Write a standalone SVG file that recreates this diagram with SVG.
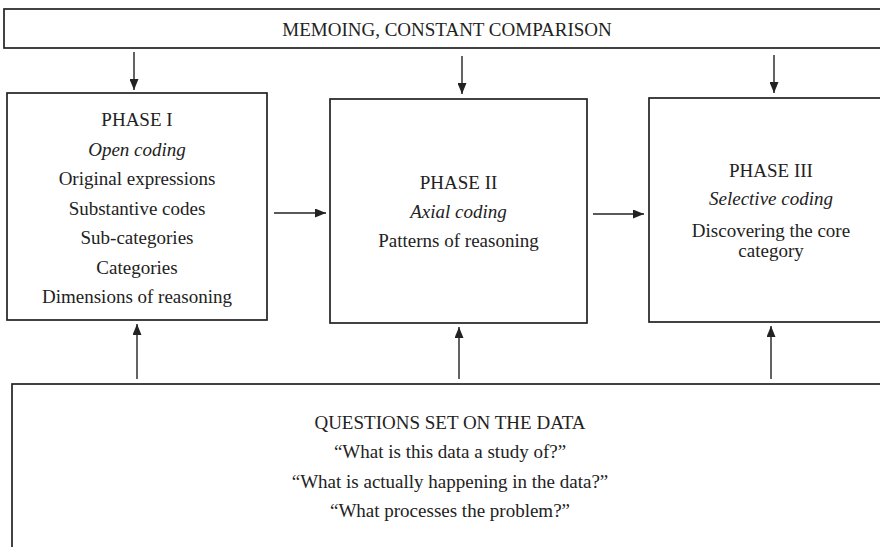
<svg xmlns="http://www.w3.org/2000/svg" width="880" height="547" viewBox="0 0 880 547">
<style>
.box{fill:#fff;stroke:#222;stroke-width:1.7}
.t{font-family:"Liberation Serif","Times New Roman",serif;font-size:19px;fill:#222;text-anchor:middle}
.i{font-style:italic}
.c{stroke:#222;stroke-width:1.4;fill:none;marker-end:url(#ah)}
</style>
<defs>
<marker id="ah" markerUnits="userSpaceOnUse" viewBox="0 0 11 9" refX="11" refY="4.5" markerWidth="11" markerHeight="9" orient="auto">
<path d="M0,0 L11,4.5 L0,9 Z" fill="#222"/>
</marker>
</defs>
<rect width="880" height="547" fill="#fff"/>
<g id="memoing">
<rect class="box" x="4" y="9" width="886" height="39"/>
<text class="t" x="447" y="36">MEMOING, CONSTANT COMPARISON</text>
</g>
<g id="phase1">
<rect class="box" x="7" y="93" width="260" height="227"/>
<text class="t" x="137" y="126">PHASE I</text>
<text class="t i" x="137" y="155.5">Open coding</text>
<text class="t" x="137" y="185">Original expressions</text>
<text class="t" x="137" y="214.5">Substantive codes</text>
<text class="t" x="137" y="244">Sub-categories</text>
<text class="t" x="137" y="273.5">Categories</text>
<text class="t" x="137" y="303">Dimensions of reasoning</text>
</g>
<g id="phase2">
<rect class="box" x="330" y="99" width="257" height="224"/>
<text class="t" x="458.5" y="189">PHASE II</text>
<text class="t i" x="458.5" y="218">Axial coding</text>
<text class="t" x="458.5" y="247">Patterns of reasoning</text>
</g>
<g id="phase3">
<rect class="box" x="649" y="98" width="244" height="224"/>
<text class="t" x="771" y="177">PHASE III</text>
<text class="t i" x="771" y="205">Selective coding</text>
<text class="t" x="771" y="237">Discovering the core</text>
<text class="t" x="771" y="257">category</text>
</g>
<g id="questions">
<rect class="box" x="12" y="384" width="880" height="175"/>
<text class="t" x="450" y="429">QUESTIONS SET ON THE DATA</text>
<text class="t" x="450" y="458">“What is this data a study of?”</text>
<text class="t" x="450" y="488">“What is actually happening in the data?”</text>
<text class="t" x="450" y="517">“What processes the problem?”</text>
</g>
<g id="connectors">
<line class="c" x1="134" y1="52" x2="134" y2="90"/>
<line class="c" x1="462" y1="56" x2="462" y2="94"/>
<line class="c" x1="774" y1="55" x2="774" y2="93"/>
<line class="c" x1="274" y1="213" x2="326" y2="213"/>
<line class="c" x1="593" y1="214" x2="644" y2="214"/>
<line class="c" x1="137" y1="379" x2="137" y2="324"/>
<line class="c" x1="459" y1="379" x2="459" y2="327"/>
<line class="c" x1="771" y1="379" x2="771" y2="326"/>
</g>
</svg>
